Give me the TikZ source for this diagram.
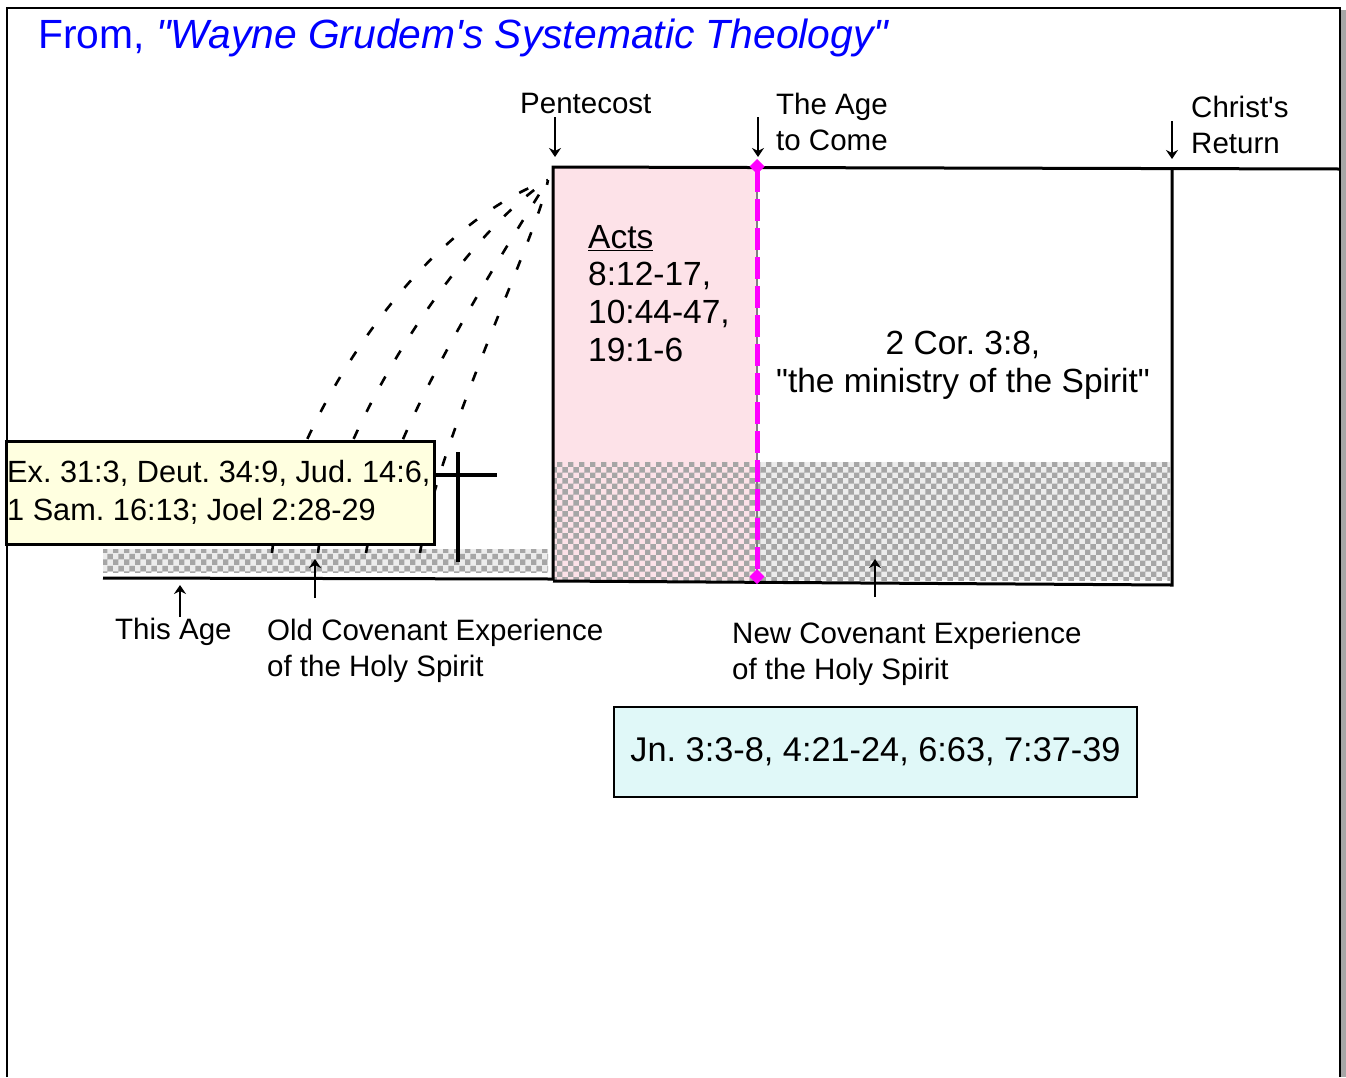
\documentclass[tikz,border=0pt]{standalone}
\usepackage{fontspec}
\setmainfont{Liberation Sans}[Ligatures=TeXOff]
\usetikzlibrary{arrows.meta,patterns,positioning}
\definecolor{rose}{HTML}{FDE2E8}
\definecolor{cream}{HTML}{FFFFE0}
\definecolor{ice}{HTML}{E0F8F8}
\definecolor{mag}{HTML}{FF00FF}
\tikzset{lbl/.style={font=\fontsize{29.5}{35.5}\selectfont,align=left,inner sep=0pt},ref/.style={font=\fontsize{33.5}{37.7}\selectfont,inner sep=0pt},refbox/.style={draw=black,line width=2.5pt,inner sep=0pt},pointer/.style={draw=black,line width=1.6pt,-{Stealth[length=9pt,width=12pt,inset=3pt]}},spirit/.style={draw=black,line width=2.6pt,dash pattern=on 10pt off 20pt},shade/.style={pattern=checkerboard,pattern color=gray!70}}
\frenchspacing

\begin{document}
\begin{tikzpicture}[x=1pt,y=-1pt]
\useasboundingbox (0,0) rectangle (1346,1077);
% frame and title
\fill[gray!70] (1341,10) rectangle (1346,1077);
\draw[line width=1.5pt] (7,1077) -- (7,8) -- (1340,8) -- (1340,1077);
\node[anchor=base west,inner sep=0pt,text=blue,font=\fontsize{40.8}{44}\selectfont] (title) at (38,48) {From, \textit{"Wayne Grudem's Systematic Theology"}};
% ages
\fill[rose] (553,167) rectangle (757,580);
\fill[gray!15] (103,549) rectangle (548,572);
\fill[gray!15] (757,462) rectangle (1170,580);
\fill[shade] (103,549) rectangle (548,572);
\fill[shade] (553,462) rectangle (1170,580);
\draw[line width=3pt] (103,578) -- (553,579);
\draw[line width=3pt] (553,580) -- (553,167) -- (1340,169);
\draw[line width=3pt] (553,581) -- (1172,585) -- (1172,169);
\draw[gray,line width=1.5pt] (757,167) -- (757,580);
\draw[mag,line width=5pt,dash pattern=on 22pt off 7pt,{Diamond[length=15pt,width=15pt]}-{Diamond[length=15pt,width=15pt]}] (757,159) -- (757,584);
% old covenant outpourings
\foreach \a/\b/\c/\d/\e in {272/282/450/400/235,318/330/445/450/245,366/387/430/505/250,420/440/433/538/235}
  \draw[spirit] (\a,553) .. controls (\b,\c) and (\d,\e) .. (548,180);
\draw[line width=4pt] (458,452) -- (458,562);
\draw[line width=4pt] (419,475) -- (497,475);
% references
\node[refbox,fill=cream,minimum width=428pt,minimum height=103pt,anchor=north west] (ot) at (5,440) {};
\node[ref,align=left,font=\fontsize{30.7}{38}\selectfont,anchor=west] (otx) at ([xshift=2pt]ot.west) {Ex. 31:3, Deut. 34:9, Jud. 14:6,\\1 Sam. 16:13; Joel 2:28-29};
\node[refbox,ref,font=\fontsize{34.3}{38}\selectfont,fill=ice,minimum width=523pt,minimum height=90pt] (nt) at (875.5,752) {Jn. 3:3-8, 4:21-24, 6:63, 7:37-39};
\node[ref,align=left,anchor=north west] (acts) at (588,225) {\underline{Acts}\\8:12-17,\\10:44-47,\\19:1-6};
\node[ref,align=center] (cor) at (963,365) {2 Cor. 3:8,\\"the ministry of the Spirit"};
% labels
\node[lbl,anchor=west] (pent) at (520,103) {Pentecost};
\node[lbl,anchor=west] (age) at (776,122) {The Age\\to Come};
\node[lbl,anchor=west] (ret) at (1191,125) {Christ's\\Return};
\node[lbl,anchor=west] (now) at (115,632) {This Age};
\node[lbl,anchor=west] (oc) at (267,651) {Old Covenant Experience\\of the Holy Spirit};
\node[lbl,anchor=west] (nc) at (732,654) {New Covenant Experience\\of the Holy Spirit};
\foreach \n/\x/\a/\b in {p/555/117/157,a/758/117/157,r/1172/121/159,t/180/617/585,o/315/598/559,n/875/597/559}{
  \coordinate (\n s) at (\x,\a); \coordinate (\n e) at (\x,\b);
  \draw[pointer] (\n s) -- (\n e);}
\end{tikzpicture}
\end{document}
